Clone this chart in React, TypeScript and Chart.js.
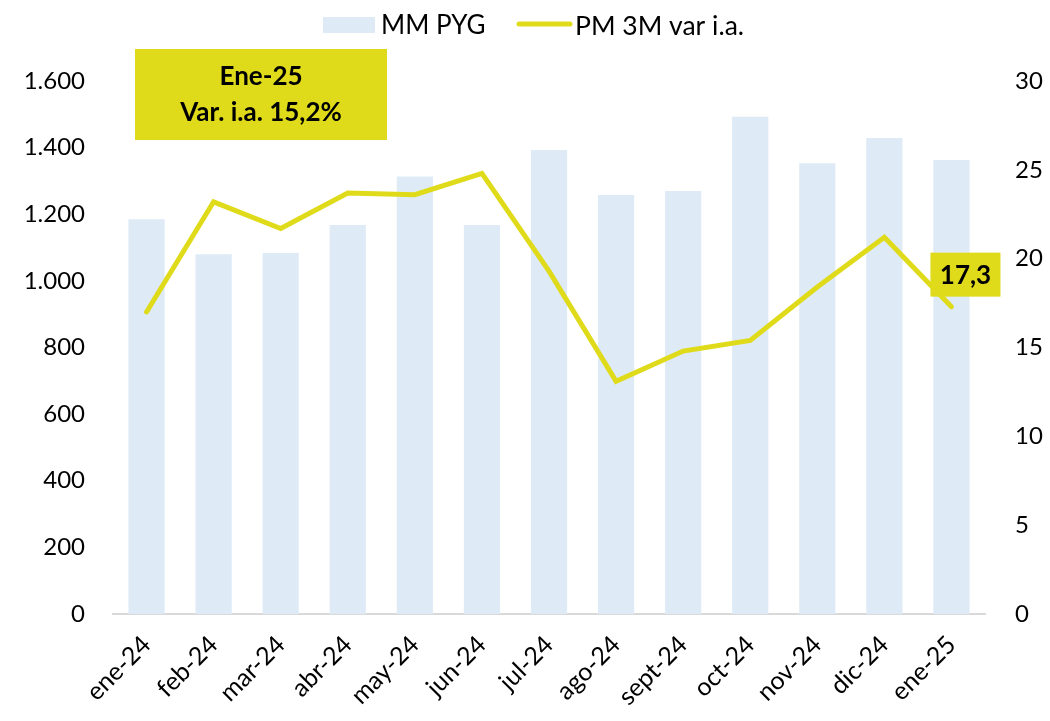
import React, { useEffect, useRef } from "react";
import { Chart, registerables } from "chart.js";

Chart.register(...registerables);

const categories = ["ene-24", "feb-24", "mar-24", "abr-24", "may-24", "jun-24", "jul-24", "ago-24", "sept-24", "oct-24", "nov-24", "dic-24", "ene-25"];
const mmPyg = [1185, 1080, 1084, 1168, 1313, 1168, 1393, 1258, 1270, 1493, 1353, 1429, 1363];
const pm3mVar = [17.0, 23.2, 21.7, 23.7, 23.6, 24.8, 19.3, 13.1, 14.8, 15.4, 18.4, 21.2, 17.3];
const leftTicks = [0, 200, 400, 600, 800, 1000, 1200, 1400, 1600];
const rightTicks = [0, 5, 10, 15, 20, 25, 30];
const seriesNames = ["MM PYG", "PM 3M var i.a."];
const annotationLines = ["Ene-25", "Var. i.a. 15,2%"];
const lastPointLabel = "17,3";

const FONT = "Lato, 'Open Sans', sans-serif";
const BAR_COLOR = "#DEEBF7";
const LINE_COLOR = "#DFDB1A";

const fmtThousands = (v: number) => String(v).replace(/\B(?=(\d{3})+(?!\d))/g, ".");

const overlayPlugin = {
  id: "overlay",
  afterDraw(chart: any) {
    const ctx = chart.ctx;
    const area = chart.chartArea;
    ctx.save();
    // Legend
    ctx.font = `26px ${FONT}`;
    ctx.textBaseline = "middle";
    ctx.textAlign = "left";
    ctx.fillStyle = BAR_COLOR;
    ctx.fillRect(323, 17, 52, 16);
    ctx.fillStyle = "#000";
    ctx.fillText(seriesNames[0], 381, 26);
    ctx.strokeStyle = LINE_COLOR;
    ctx.lineWidth = 5;
    ctx.lineCap = "round";
    ctx.beginPath();
    ctx.moveTo(519, 24);
    ctx.lineTo(570, 24);
    ctx.stroke();
    ctx.fillStyle = "#000";
    ctx.font = `26.5px ${FONT}`;
    ctx.fillText(seriesNames[1], 575, 26);

    // Annotation box
    const bx = area.left + 22;
    const by = 49;
    const bw = 252;
    const bh = 91;
    ctx.fillStyle = LINE_COLOR;
    ctx.fillRect(bx, by, bw, bh);
    ctx.fillStyle = "#000";
    ctx.font = `bold 26px ${FONT}`;
    ctx.textAlign = "center";
    ctx.fillText(annotationLines[0], bx + bw / 2, by + 28);
    ctx.fillText(annotationLines[1], bx + bw / 2, by + 64);

    // Last point label
    const meta = chart.getDatasetMeta(1);
    const pt = meta.data[meta.data.length - 1];
    if (pt) {
      const cx = pt.x + 14;
      const cy = pt.y - 32;
      ctx.fillStyle = LINE_COLOR;
      ctx.fillRect(cx - 35, cy - 22, 70, 44);
      ctx.fillStyle = "#000";
      ctx.font = `bold 26px ${FONT}`;
      ctx.textAlign = "center";
      ctx.fillText(lastPointLabel, cx, cy + 1);
    }
    ctx.restore();
  },
};

export default function App() {
  const ref = useRef<HTMLCanvasElement | null>(null);
  useEffect(() => {
    if (!ref.current) return;
    const chart = new Chart(ref.current, {
      type: "bar",
      data: {
        labels: categories,
        datasets: [
          {
            type: "bar",
            label: seriesNames[0],
            data: mmPyg,
            backgroundColor: BAR_COLOR,
            yAxisID: "y",
            barPercentage: 0.54,
            categoryPercentage: 1,
            order: 2,
          },
          {
            type: "line",
            label: seriesNames[1],
            data: pm3mVar,
            borderColor: LINE_COLOR,
            backgroundColor: LINE_COLOR,
            borderWidth: 5,
            pointRadius: 0,
            borderCapStyle: "round",
            borderJoinStyle: "miter",
            tension: 0,
            yAxisID: "y1",
            order: 1,
          },
        ],
      },
      options: {
        animation: false,
        responsive: false,
        maintainAspectRatio: false,
        layout: { padding: { top: 81, bottom: 0, left: 0, right: 0 } },
        plugins: { legend: { display: false }, tooltip: { enabled: false } },
        scales: {
          x: {
            grid: { display: false, drawTicks: false },
            border: { display: true, color: "#D9D9D9", width: 2 },
            ticks: {
              font: { family: FONT, size: 25 },
              color: "#000",
              maxRotation: 45,
              minRotation: 45,
              padding: 16,
              autoSkip: false,
            },
            afterFit: (s: any) => { s.height = 721 - 614; },
          },
          y: {
            position: "left",
            min: 0,
            max: 1600,
            afterBuildTicks: (s: any) => { s.ticks = leftTicks.map((v) => ({ value: v })); },
            grid: { display: false, drawTicks: false },
            border: { display: false },
            ticks: {
              font: { family: FONT, size: 24 },
              color: "#000",
              padding: 28,
              callback: (v: any) => fmtThousands(Number(v)),
            },
            afterFit: (s: any) => { s.width = 113; },
          },
          y1: {
            position: "right",
            min: 0,
            max: 30,
            afterBuildTicks: (s: any) => { s.ticks = rightTicks.map((v) => ({ value: v })); },
            grid: { display: false, drawTicks: false },
            border: { display: false },
            ticks: {
              font: { family: FONT, size: 24 },
              color: "#000",
              padding: 30,
            },
            afterFit: (s: any) => { s.width = 65; },
          },
        },
      },
      plugins: [overlayPlugin],
    } as any);
    return () => chart.destroy();
  }, []);
  return (
    <div style={{ position: "fixed", left: 0, top: 0, width: 1050, height: 721, background: "#fff" }}>
      <canvas ref={ref} width={1050} height={721} style={{ width: 1050, height: 721 }} />
    </div>
  );
}
